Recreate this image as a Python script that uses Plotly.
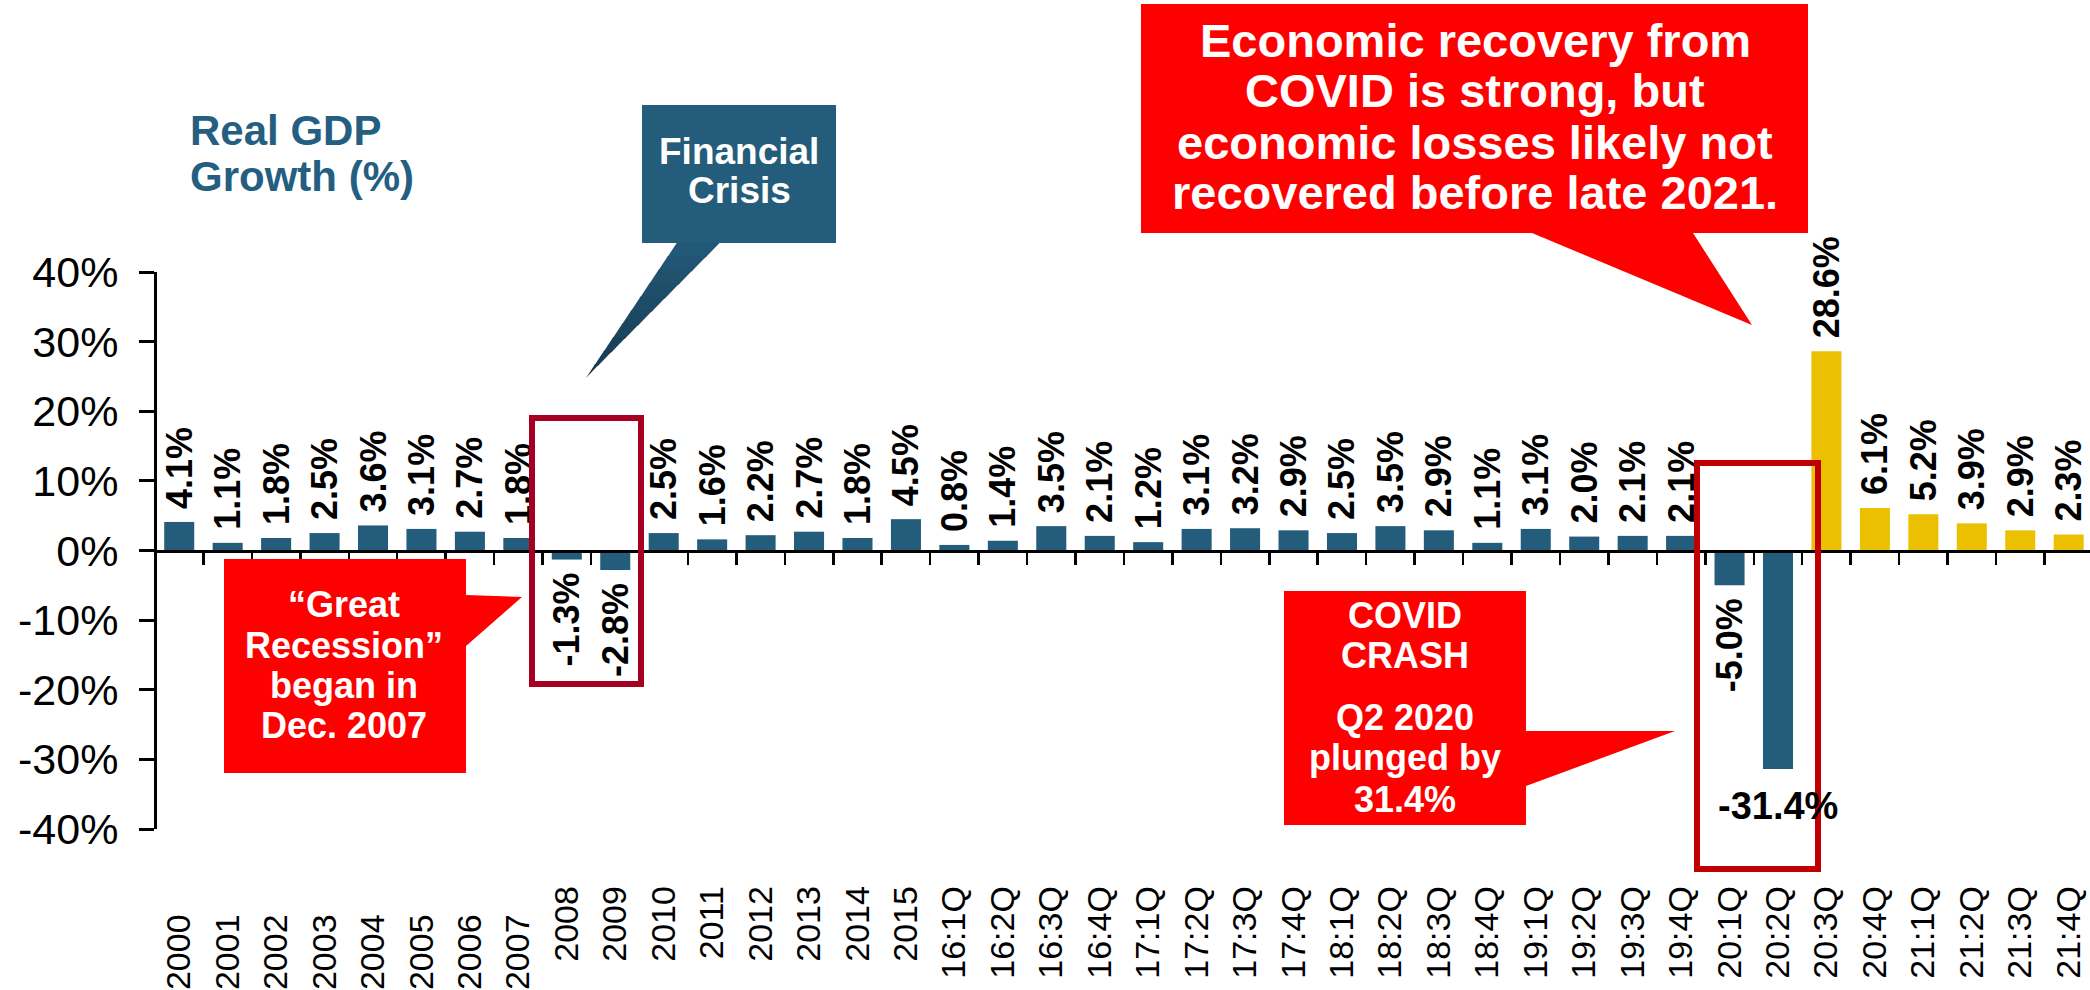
import plotly.graph_objects as go

# ---------------- data ----------------
categories = [
    "2000", "2001", "2002", "2003", "2004", "2005", "2006", "2007",
    "2008", "2009", "2010", "2011", "2012", "2013", "2014", "2015",
    "16:1Q", "16:2Q", "16:3Q", "16:4Q",
    "17:1Q", "17:2Q", "17:3Q", "17:4Q",
    "18:1Q", "18:2Q", "18:3Q", "18:4Q",
    "19:1Q", "19:2Q", "19:3Q", "19:4Q",
    "20:1Q", "20:2Q", "20:3Q", "20:4Q",
    "21:1Q", "21:2Q", "21:3Q", "21:4Q",
]
growth = [
    4.1, 1.1, 1.8, 2.5, 3.6, 3.1, 2.7, 1.8,
    -1.3, -2.8, 2.5, 1.6, 2.2, 2.7, 1.8, 4.5,
    0.8, 1.4, 3.5, 2.1,
    1.2, 3.1, 3.2, 2.9,
    2.5, 3.5, 2.9, 1.1,
    3.1, 2.0, 2.1, 2.1,
    -5.0, -31.4, 28.6, 6.1,
    5.2, 3.9, 2.9, 2.3,
]
y_ticks = [40, 30, 20, 10, 0, -10, -20, -30, -40]
recovery_start = "20:3Q"        # first gold bar
crash_label_category = "20:2Q"  # labelled horizontally below the bar
first_raised_label = "2008"     # labels before this sit a bit lower

# ---------------- style ----------------
BLUE = "#245C7B"
GOLD = "#EBC000"
RED = "#FF0000"
DARK_RED1 = "#A50021"
DARK_RED2 = "#C00000"
TITLE_BLUE = "#245E80"
ARIAL = "Liberation Sans, Arial, sans-serif"
NBSP = "\u00a0"

W, H = 2090, 990
PL, PR, PT, PB = 155, 2090, 272, 829   # plot area in pixels


def px(x):
    return (x - PL) / (PR - PL)


def py(y):
    return (PB - y) / (PB - PT)


rec_idx = categories.index(recovery_start)
colors = [GOLD if i >= rec_idx else BLUE for i in range(len(categories))]

texts = []
for c, v in zip(categories, growth):
    if c == crash_label_category:
        texts.append("")
    elif v >= 0:
        texts.append(NBSP + f"{v:.1f}%")
    else:
        texts.append(f"{v:.1f}%" + NBSP)

raised_idx = categories.index(first_raised_label)
tick_text = [c + NBSP * 3 if i < raised_idx else c for i, c in enumerate(categories)]

fig = go.Figure(
    go.Bar(
        x=categories,
        y=growth,
        marker=dict(color=colors, line=dict(width=0)),
        text=texts,
        textposition="outside",
        textangle=-90,
        constraintext="none",
        cliponaxis=False,
        textfont=dict(family=ARIAL, size=36, color="black", weight="bold"),
        hoverinfo="skip",
    )
)

shapes = []
annotations = []


def poly(points, fill):
    d = "M " + " L ".join(f"{px(x):.5f},{py(y):.5f}" for x, y in points) + " Z"
    shapes.append(dict(type="path", path=d, xref="paper", yref="paper",
                       fillcolor=fill, line=dict(width=0), layer="above"))


def outline(x0, y0, x1, y1, color, width=6):
    shapes.append(dict(type="rect", xref="paper", yref="paper",
                       x0=px(x0), x1=px(x1), y0=py(y0), y1=py(y1),
                       line=dict(color=color, width=width),
                       fillcolor="rgba(0,0,0,0)", layer="above"))


def label(text, cx, cy, size, color="white", anchor="center", weight="bold", family=ARIAL):
    annotations.append(dict(text=text, x=px(cx), y=py(cy), xref="paper", yref="paper",
                            xanchor=anchor, yanchor="middle", showarrow=False,
                            font=dict(family=family, size=size, color=color, weight=weight)))


def hexmix(c1, c2, t):
    a = [int(c1[i:i + 2], 16) for i in (1, 3, 5)]
    b = [int(c2[i:i + 2], 16) for i in (1, 3, 5)]
    return "#" + "".join(f"{round(a[k] + (b[k] - a[k]) * t):02x}" for k in range(3))


# Title
label("Real GDP", 188, 130, 42, TITLE_BLUE, anchor="left")
label("Growth (%)", 188, 177, 42, TITLE_BLUE, anchor="left")

# Financial Crisis callout (box + gradient pointer)
poly([(642, 105), (836, 105), (836, 243), (642, 243)], "#245C7B")
n = 10
for i in range(n):
    t0, t1 = i / n, min(1.0, (i + 1) / n + 0.01)
    yA, yB = 243 + t0 * 135, 243 + t1 * 135
    lA, lB = 677 + t0 * (586 - 677), 677 + t1 * (586 - 677)
    rA, rB = 720 + t0 * (586 - 720), 720 + t1 * (586 - 720)
    poly([(lA, yA - 0.5), (rA, yA - 0.5), (rB, yB), (lB, yB)],
         hexmix("#235A79", "#18394F", (i + 0.5) / n))
label("Financial", 739, 151, 37)
label("Crisis", 739, 191, 37)

# Economic recovery callout
poly([(1141, 4), (1808, 4), (1808, 233), (1693, 233), (1752, 325), (1532, 233), (1141, 233)], RED)
for txt, cy in [("Economic recovery from", 40), ("COVID is strong, but", 91),
                ("economic losses likely not", 142), ("recovered before late 2021.", 193)]:
    label(txt, 1475, cy, 47)

# Great Recession callout
poly([(224, 559), (466, 559), (466, 595), (522, 597), (466, 646), (466, 773), (224, 773)], RED)
for txt, cy in [("\u201cGreat", 604), ("Recession\u201d", 645), ("began in", 685), ("Dec. 2007", 725)]:
    label(txt, 344, cy, 36)

# COVID crash callout
poly([(1284, 591), (1526, 591), (1526, 731), (1675, 731), (1526, 786), (1526, 825), (1284, 825)], RED)
for txt, cy in [("COVID", 615), ("CRASH", 655), ("Q2 2020", 717), ("plunged by", 757), ("31.4%", 799)]:
    label(txt, 1405, cy, 36)

# Highlight boxes
outline(532, 418, 641, 684, DARK_RED1)
outline(1697, 463, 1818, 869, DARK_RED2)

# -31.4% label below the crash bar
crash_val = growth[categories.index(crash_label_category)]
annotations.append(dict(text=f"{crash_val:.1f}%", x=crash_label_category, y=crash_val,
                        xref="x", yref="y", xanchor="center", yanchor="top", yshift=-14,
                        showarrow=False,
                        font=dict(family=ARIAL, size=38, color="black", weight="bold")))

fig.update_layout(
    width=W, height=H,
    margin=dict(l=PL, r=W - PR, t=PT, b=H - PB, pad=0, autoexpand=False),
    paper_bgcolor="white", plot_bgcolor="white",
    showlegend=False,
    bargap=0.38,
    font=dict(family=ARIAL, color="black"),
    shapes=shapes,
    annotations=annotations,
    xaxis=dict(
        type="category", range=[-0.5, 39.44],
        anchor="free", position=0.5,
        showline=True, linecolor="black", linewidth=3,
        ticks="outside", tickson="boundaries", ticklen=12, tickwidth=2.5, tickcolor="black",
        tickangle=-90, tickvals=categories, ticktext=tick_text,
        tickfont=dict(family=ARIAL, size=34, color="black"),
        ticklabelstandoff=320,
        showgrid=False, zeroline=False, automargin=False,
    ),
    yaxis=dict(
        range=[-40, 40], anchor="free", position=0,
        showline=True, linecolor="black", linewidth=3,
        ticks="outside", ticklen=15, tickwidth=3, tickcolor="black",
        tickvals=y_ticks, ticktext=[f"{v}%" for v in y_ticks],
        tickfont=dict(family=ARIAL, size=43, color="black"),
        ticklabelstandoff=12,
        showgrid=False, zeroline=False, automargin=False,
    ),
)

fig.write_html(
    "out.html",
    config={"displayModeBar": False, "staticPlot": True},
    post_script="document.body.style.margin='0';document.body.style.overflow='hidden';",
)
